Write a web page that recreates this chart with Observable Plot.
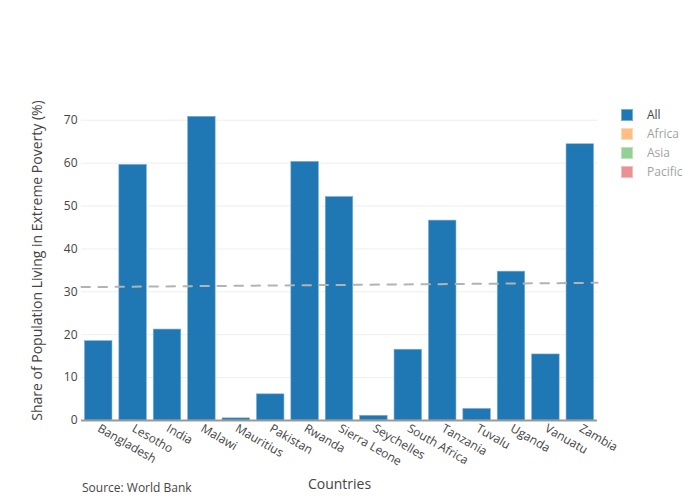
<!DOCTYPE html>
<html>
<head>
<meta charset="utf-8">
<script src="https://cdn.jsdelivr.net/npm/d3@7"></script>
<script src="https://cdn.jsdelivr.net/npm/@observablehq/plot@0.6"></script>
<style>
  body { margin: 0; background: #fff; font-family: "Open Sans", sans-serif; }
  #wrap { position: relative; width: 700px; height: 500px; }
  #legend { position: absolute; left: 621px; top: 105px; font-size: 12px; }
  .li { display: flex; align-items: center; height: 19px; }
  .sw { width: 12px; height: 12px; box-sizing: border-box; margin-right: 14px; }
  #source { position: absolute; left: 82px; top: 479px; font-size: 12px; color: #444; }
</style>
</head>
<body>
<div id="wrap">
  <div id="chart"></div>
  <div id="legend"></div>
  <div id="source">Source: World Bank</div>
</div>
<script>
const countries = ["Bangladesh","Lesotho","India","Malawi","Mauritius","Pakistan","Rwanda","Sierra Leone","Seychelles","South Africa","Tanzania","Tuvalu","Uganda","Vanuatu","Zambia"];
const poverty = [18.5, 59.6, 21.2, 70.8, 0.5, 6.1, 60.3, 52.1, 1.1, 16.5, 46.6, 2.7, 34.7, 15.4, 64.4];
const trendX = [-0.5, 14.5];
const trendY = [31.1, 32.1];
const yTicks = [0, 10, 20, 30, 40, 50, 60, 70];
const legendNames = ["All", "Africa", "Asia", "Pacific"];
const legendColors = ["#1f77b4", "#ff7f0e", "#2ca02c", "#d62728"];
const legendVisible = [true, false, false, false];

const bars = countries.map((c, i) => ({i, country: c, value: poverty[i]}));
const trend = trendX.map((x, k) => ({x, y: trendY[k]}));

const plot = Plot.plot({
  width: 700,
  height: 500,
  marginLeft: 81,
  marginRight: 103,
  marginTop: 100,
  marginBottom: 80,
  style: {fontFamily: "'Open Sans', sans-serif", fontSize: "12px", color: "#444", background: "#fff"},
  x: {type: "linear", domain: [-0.5, 14.5]},
  y: {domain: [0, 74.6]},
  marks: [
    Plot.gridY(yTicks, {stroke: "#eee", strokeOpacity: 1, strokeWidth: 1}),
    Plot.rectY(bars, {x1: d => d.i - 0.4, x2: d => d.i + 0.4, y1: 0, y2: "value", fill: "#1f77b4", stroke: "#7fb1d6", strokeWidth: 0.6}),
    Plot.ruleY([0], {stroke: "#999", strokeWidth: 2}),
    Plot.line(trend, {x: "x", y: "y", stroke: "#b3b3b3", strokeWidth: 2, strokeDasharray: "8.5,8.5"}),
    Plot.axisY(yTicks, {tickSize: 0, tickPadding: 4, fontSize: 12, fill: "#444", label: "Share of Population Living in Extreme Poverty (%)", labelAnchor: "center", labelArrow: "none", labelOffset: 49}),
    Plot.axisX(d3.range(countries.length), {tickSize: 0, tickPadding: 7, tickRotate: 30, tickFormat: i => countries[i], fontSize: 12, fill: "#444", label: "Countries", labelAnchor: "center", labelArrow: "none", labelOffset: 68})
  ]
});
document.getElementById("chart").appendChild(plot);

plot.querySelectorAll("g[aria-label='y-axis label'] text, g[aria-label='x-axis label'] text").forEach(t => {
  t.setAttribute("font-size", "14px");
  t.style.fontSize = "14px";
});

const legend = document.getElementById("legend");
legendNames.forEach((n, k) => {
  const row = document.createElement("div");
  row.className = "li";
  const sw = document.createElement("div");
  sw.className = "sw";
  sw.style.background = legendColors[k];
  sw.style.border = "1px solid rgba(255,255,255,0.4)";
  const tx = document.createElement("span");
  tx.textContent = n;
  tx.style.color = "#444";
  if (!legendVisible[k]) { sw.style.opacity = 0.5; tx.style.opacity = 0.5; }
  row.appendChild(sw); row.appendChild(tx);
  legend.appendChild(row);
});
</script>
</body>
</html>
